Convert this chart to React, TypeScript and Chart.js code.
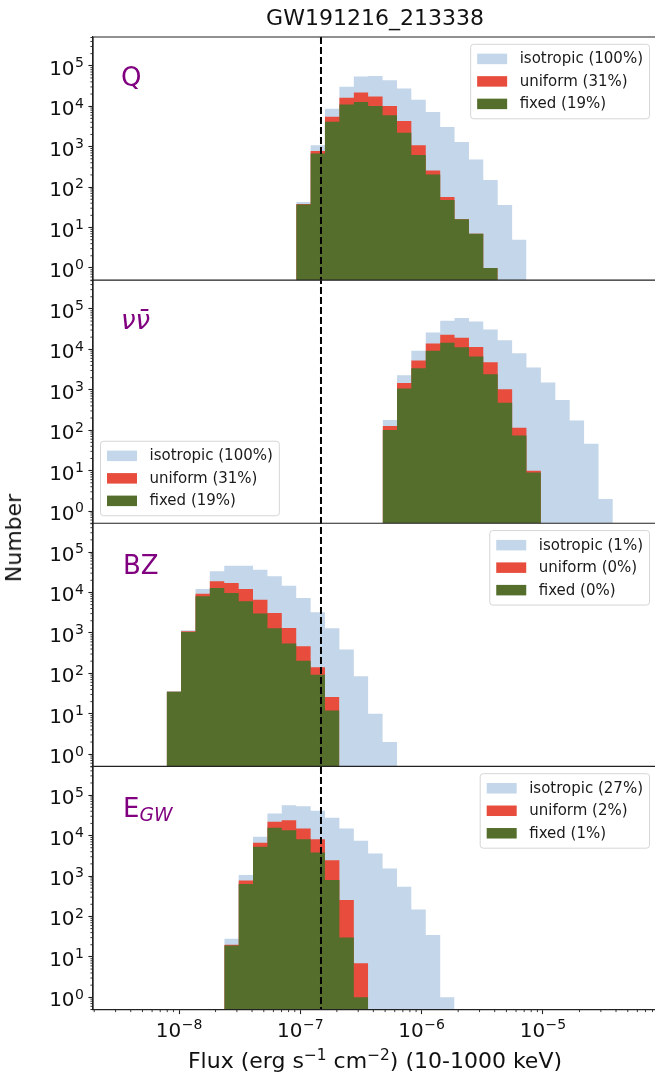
import React, { useEffect, useRef } from 'react';
import { Chart, registerables } from 'chart.js';

Chart.register(...registerables);

// ---- bin grid (log10 of flux edges, erg s^-1 cm^-2) ----
const binEdgesLog = [
  -8.102, -7.983, -7.864, -7.746, -7.627, -7.508, -7.390, -7.271, -7.153, -7.034,
  -6.915, -6.797, -6.678, -6.559, -6.441, -6.322, -6.203, -6.085, -5.966, -5.847,
  -5.729, -5.610, -5.492, -5.373, -5.254, -5.136, -5.017, -4.898, -4.780, -4.661,
  -4.542, -4.424, -4.305, -4.186,
];

const fluxThreshold = 1.48e-7;

// ---- panel Q ----
const qFirstBin = 9;
const qIsotropic = [43, 1090, 8700, 30500, 54000, 56000, 43800, 27300, 14500, 7200, 3050, 1300, 480, 150, 36, 5];
const qUniform = [38, 780, 5500, 16300, 21700, 17300, 10100, 4300, 1090, 258, 57, 16, 7, 1];
const qFixed = [37, 680, 4140, 11100, 12700, 10100, 5950, 2210, 618, 205, 48, 16, 7, 1];
const qLegend = ['isotropic (100%)', 'uniform (31%)', 'fixed (19%)'];

// ---- panel nu nubar ----
const nuFirstBin = 15;
const nuIsotropic = [179, 2290, 9190, 26200, 50900, 59300, 49000, 31000, 16900, 8040, 3550, 1510, 560, 175, 46, 2];
const nuUniform = [127, 1480, 5290, 13960, 22900, 19300, 11500, 4810, 1030, 115, 10];
const nuFixed = [101, 1070, 3415, 9190, 14500, 11300, 6650, 2425, 481, 74, 9];
const nuLegend = ['isotropic (100%)', 'uniform (31%)', 'fixed (19%)'];

// ---- panel BZ ----
const bzFirstBin = 0;
const bzIsotropic = [36, 1160, 12200, 33300, 46000, 46000, 36600, 25100, 14750, 7310, 3240, 1300, 387, 85, 10, 2];
const bzUniform = [35, 1100, 9350, 18900, 17200, 12200, 6650, 3120, 1330, 469, 142, 26];
const bzFixed = [35, 1060, 8040, 12900, 9720, 6050, 3000, 1300, 545, 204, 92, 12];
const bzLegend = ['isotropic (1%)', 'uniform (0%)', 'fixed (0%)'];

// ---- panel E_GW ----
const egwFirstBin = 4;
const egwIsotropic = [28, 1054, 9330, 35200, 56600, 53500, 41000, 27500, 15000, 7430, 3610, 1540, 542, 149, 35, 1];
const egwUniform = [20, 778, 6640, 21900, 24100, 15000, 8170, 2470, 254, 7];
const egwFixed = [19, 631, 5280, 15600, 13600, 8170, 3830, 793, 30, 1];
const egwLegend = ['isotropic (27%)', 'uniform (2%)', 'fixed (1%)'];

// ---- ticks ----
const xTickValues = [1e-8, 1e-7, 1e-6, 1e-5];
const xTickExponents = ['\u22128', '\u22127', '\u22126', '\u22125'];
const yTickValues = [1, 10, 100, 1000, 10000, 100000];
const yTickExponents = ['0', '1', '2', '3', '4', '5'];
const tickBase = '10';

const X_MIN = Math.pow(10, -8.709);
const X_MAX = Math.pow(10, -4.06);
const Y_MIN = 0.5;
const Y_MAX = 5.15e5;

const COLOR_ISO = 'rgb(196,214,233)';
const COLOR_UNI = 'rgb(231,76,60)';
const COLOR_FIX = 'rgb(85,110,44)';
const AXIS_COLOR = '#222';
const FONT = "'DejaVu Sans', sans-serif";

type Panel = {
  id: string;
  first: number;
  iso: number[];
  uni: number[];
  fix: number[];
  legend: string[];
  legendLoc: 'ur' | 'll';
};

const panels: Panel[] = [
  { id: 'y0', first: qFirstBin, iso: qIsotropic, uni: qUniform, fix: qFixed, legend: qLegend, legendLoc: 'ur' },
  { id: 'y1', first: nuFirstBin, iso: nuIsotropic, uni: nuUniform, fix: nuFixed, legend: nuLegend, legendLoc: 'll' },
  { id: 'y2', first: bzFirstBin, iso: bzIsotropic, uni: bzUniform, fix: bzFixed, legend: bzLegend, legendLoc: 'ur' },
  { id: 'y3', first: egwFirstBin, iso: egwIsotropic, uni: egwUniform, fix: egwFixed, legend: egwLegend, legendLoc: 'ur' },
];

function histPoints(first: number, counts: number[]) {
  const pts = counts.map((c, i) => ({ x: Math.pow(10, binEdgesLog[first + i]), y: c }));
  pts.push({ x: Math.pow(10, binEdgesLog[first + counts.length]), y: counts[counts.length - 1] });
  return pts;
}

function histDataset(p: Panel, counts: number[], color: string, order: number, label: string) {
  return {
    label,
    data: histPoints(p.first, counts),
    xAxisID: 'x',
    yAxisID: p.id,
    stepped: 'before',
    fill: 'start',
    backgroundColor: color,
    borderColor: 'rgba(0,0,0,0)',
    borderWidth: 0,
    pointRadius: 0,
    pointHoverRadius: 0,
    tension: 0,
    order,
  };
}

function yScale(weight: number) {
  return {
    type: 'logarithmic',
    position: 'left',
    stack: 'panels',
    stackWeight: 1,
    weight,
    min: Y_MIN,
    max: Y_MAX,
    afterFit: (s: any) => { s.width = 93; },
    afterBuildTicks: (s: any) => { s.ticks = yTickValues.map((v) => ({ value: v })); },
    ticks: { display: false, autoSkip: false },
    grid: { drawOnChartArea: false, drawTicks: true, tickLength: 4.6, color: AXIS_COLOR, tickWidth: 1.1 },
    border: { display: true, color: AXIS_COLOR, width: 1.2 },
  };
}

function drawPower(ctx: CanvasRenderingContext2D, exp: string, x: number, baseline: number, align: 'right' | 'center') {
  ctx.font = `20px ${FONT}`;
  const wb = ctx.measureText(tickBase).width;
  ctx.font = `14px ${FONT}`;
  const we = ctx.measureText(exp).width;
  const total = wb + we + 0.5;
  const start = align === 'right' ? x - total : x - total / 2;
  ctx.textAlign = 'left';
  ctx.textBaseline = 'alphabetic';
  ctx.fillStyle = '#111';
  ctx.font = `20px ${FONT}`;
  ctx.fillText(tickBase, start, baseline);
  ctx.font = `14px ${FONT}`;
  ctx.fillText(exp, start + wb + 0.5, baseline - 7.6);
}

const decorPlugin = {
  id: 'decor',
  afterDatasetsDraw(chart: any) {
    const ctx: CanvasRenderingContext2D = chart.ctx;
    const area = chart.chartArea;
    const xs = chart.scales.x;

    // threshold line
    const tx = xs.getPixelForValue(fluxThreshold);
    ctx.save();
    ctx.strokeStyle = '#000';
    ctx.lineWidth = 2;
    ctx.setLineDash([7, 3]);
    ctx.beginPath();
    ctx.moveTo(tx, area.top);
    ctx.lineTo(tx, area.bottom);
    ctx.stroke();
    ctx.restore();

    // frame lines
    ctx.save();
    ctx.strokeStyle = AXIS_COLOR;
    ctx.lineWidth = 1.2;
    ctx.beginPath();
    ctx.moveTo(area.left, area.top);
    ctx.lineTo(area.right, area.top);
    panels.forEach((p) => {
      const s = chart.scales[p.id];
      ctx.moveTo(area.left, s.bottom);
      ctx.lineTo(area.right, s.bottom);
    });
    ctx.moveTo(area.left, area.top);
    ctx.lineTo(area.left, area.bottom);
    ctx.stroke();

    // minor ticks
    ctx.lineWidth = 0.9;
    ctx.beginPath();
    panels.forEach((p) => {
      const s = chart.scales[p.id];
      for (let d = -1; d <= 5; d++) {
        for (let m = 2; m <= 9; m++) {
          const v = m * Math.pow(10, d);
          if (v < s.min || v > s.max) continue;
          const y = s.getPixelForValue(v);
          ctx.moveTo(area.left, y);
          ctx.lineTo(area.left - 2.6, y);
        }
      }
    });
    for (let d = -9; d <= -5; d++) {
      for (let m = 2; m <= 9; m++) {
        const v = m * Math.pow(10, d);
        if (v < xs.min || v > xs.max) continue;
        const x = xs.getPixelForValue(v);
        ctx.moveTo(x, area.bottom);
        ctx.lineTo(x, area.bottom + 2.6);
      }
    }
    ctx.stroke();
    ctx.restore();

    // tick labels with superscripts
    ctx.save();
    panels.forEach((p) => {
      const s = chart.scales[p.id];
      yTickValues.forEach((v, i) => {
        const y = s.getPixelForValue(v);
        drawPower(ctx, yTickExponents[i], area.left - 9, y + 9, 'right');
      });
    });
    xTickValues.forEach((v, i) => {
      const x = xs.getPixelForValue(v);
      drawPower(ctx, xTickExponents[i], x, area.bottom + 27.5, 'center');
    });
    ctx.restore();

    // legends
    const colors = [COLOR_ISO, COLOR_UNI, COLOR_FIX];
    ctx.save();
    ctx.font = `15px ${FONT}`;
    panels.forEach((p) => {
      const s = chart.scales[p.id];
      const textW = Math.max(...p.legend.map((t) => ctx.measureText(t).width));
      const w = 49 + textW + 6.5;
      const h = 74.5;
      let left: number;
      let top: number;
      if (p.legendLoc === 'ur') {
        left = area.right - 7.5 - w;
        top = s.top + 7.3;
      } else {
        left = area.left + 7.5;
        top = s.bottom - 7.5 - h;
      }
      ctx.beginPath();
      ctx.roundRect(left, top, w, h, 3);
      ctx.fillStyle = 'rgba(255,255,255,0.8)';
      ctx.fill();
      ctx.strokeStyle = 'rgba(204,204,204,0.8)';
      ctx.lineWidth = 1;
      ctx.stroke();
      p.legend.forEach((t, i) => {
        const cy = top + 14.6 + i * 22.5;
        ctx.fillStyle = colors[i];
        ctx.fillRect(left + 6.5, cy - 5.25, 30, 10.5);
        ctx.fillStyle = '#1a1a1a';
        ctx.textBaseline = 'middle';
        ctx.textAlign = 'left';
        ctx.fillText(t, left + 49, cy + 0.5);
      });
    });
    ctx.restore();
  },
};

const labelBase: React.CSSProperties = {
  position: 'absolute',
  fontFamily: FONT,
  color: 'purple',
  fontSize: 26,
  lineHeight: 1,
  whiteSpace: 'nowrap',
  transform: 'translateY(-50%)',
};

const supStyle: React.CSSProperties = {
  fontSize: '0.7em',
  position: 'relative',
  top: '-0.52em',
  verticalAlign: 'baseline',
  lineHeight: 0,
};

export default function App() {
  const canvasRef = useRef<HTMLCanvasElement>(null);

  useEffect(() => {
    const datasets: any[] = [];
    panels.forEach((p) => {
      datasets.push(histDataset(p, p.fix, COLOR_FIX, 1, 'fixed'));
      datasets.push(histDataset(p, p.uni, COLOR_UNI, 2, 'uniform'));
      datasets.push(histDataset(p, p.iso, COLOR_ISO, 3, 'isotropic'));
    });

    const chart = new Chart(canvasRef.current as HTMLCanvasElement, {
      type: 'line',
      data: { datasets },
      options: {
        responsive: false,
        animation: false,
        devicePixelRatio: 1,
        events: [],
        layout: { padding: { top: 37, right: 3, bottom: 0, left: 0 } },
        plugins: {
          legend: { display: false },
          tooltip: { enabled: false },
          title: { display: false },
        },
        scales: {
          x: {
            type: 'logarithmic',
            position: 'bottom',
            min: X_MIN,
            max: X_MAX,
            afterFit: (s: any) => { s.height = 66.5; },
            afterBuildTicks: (s: any) => { s.ticks = xTickValues.map((v) => ({ value: v })); },
            ticks: { display: false, autoSkip: false },
            grid: { drawOnChartArea: false, drawTicks: true, tickLength: 4.6, color: AXIS_COLOR, tickWidth: 1.1 },
            border: { display: true, color: AXIS_COLOR, width: 1.2 },
          },
          y0: yScale(4),
          y1: yScale(3),
          y2: yScale(2),
          y3: yScale(1),
        } as any,
      },
      plugins: [decorPlugin],
    } as any);
    return () => chart.destroy();
  }, []);

  return (
    <div style={{ position: 'absolute', left: 0, top: 0, width: 655, height: 1076, overflow: 'hidden', background: '#fff' }}>
      <canvas ref={canvasRef} width={660} height={1076} style={{ position: 'absolute', left: 0, top: 0, width: 660, height: 1076 }} />
      <div style={{ position: 'absolute', left: 375, top: 7.4, transform: 'translateX(-50%)', fontFamily: FONT, fontSize: 22, lineHeight: 1, color: '#111', whiteSpace: 'nowrap' }}>
        GW191216_213338
      </div>
      <div style={{ position: 'absolute', left: 375, top: 1050.4, transform: 'translateX(-50%)', fontFamily: FONT, fontSize: 22, lineHeight: 1, color: '#111', whiteSpace: 'nowrap' }}>
        Flux (erg s<span style={supStyle}>{'\u22121'}</span> cm<span style={supStyle}>{'\u22122'}</span>) (10-1000 keV)
      </div>
      <div style={{ position: 'absolute', left: 14, top: 538, transform: 'translate(-50%,-50%) rotate(-90deg)', fontFamily: FONT, fontSize: 22, lineHeight: 1, color: '#111', whiteSpace: 'nowrap' }}>
        Number
      </div>
      <div style={{ ...labelBase, left: 121, top: 77 }}>Q</div>
      <div style={{ ...labelBase, left: 121, top: 320, fontStyle: 'italic' }}>{'\u03BD\u03BD\u0304'}</div>
      <div style={{ ...labelBase, left: 123, top: 565 }}>BZ</div>
      <div style={{ ...labelBase, left: 123, top: 808 }}>
        E<span style={{ fontSize: '0.72em', fontStyle: 'italic', position: 'relative', top: '0.22em' }}>GW</span>
      </div>
    </div>
  );
}
